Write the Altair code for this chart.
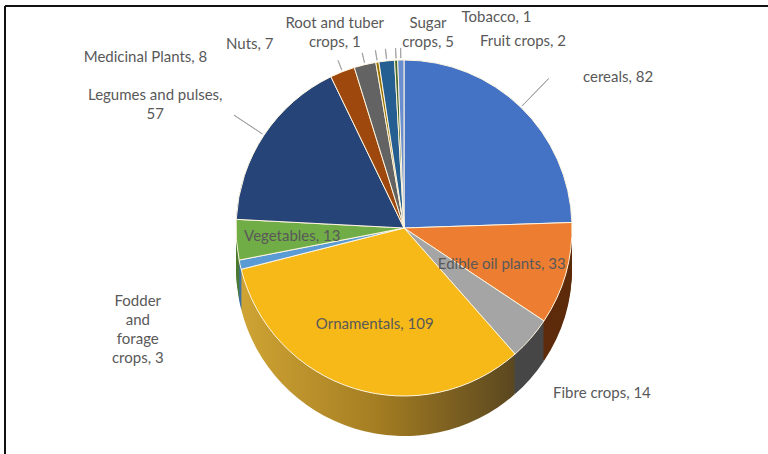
import math
import altair as alt
import pandas as pd

# ---- data ----
categories = ["cereals", "Edible oil plants", "Fibre crops", "Ornamentals",
              "Fodder and forage crops", "Vegetables", "Legumes and pulses",
              "Medicinal Plants", "Nuts", "Root and tuber crops", "Sugar crops",
              "Tobacco", "Fruit crops"]
values = [82, 33, 14, 109, 3, 13, 57, 8, 7, 1, 5, 1, 2]
labels = ["cereals, 82", "Edible oil plants, 33", "Fibre crops, 14", "Ornamentals, 109",
          "Fodder\nand\nforage\ncrops, 3", "Vegetables, 13", "Legumes and pulses,\n57",
          "Medicinal Plants, 8", "Nuts, 7", "Root and tuber\ncrops, 1", "Sugar\ncrops, 5",
          "Tobacco, 1", "Fruit crops, 2"]

# ---- styles / layout (kept apart from data) ----
top_colors = ["#4472C4", "#ED7D31", "#A5A5A5", "#F6B918", "#5B9BD5", "#70AD47", "#264478",
              "#9E480E", "#636363", "#997300", "#255E91", "#43682B", "#698ED0"]
side_colors = ["#2E4F8A", "#5E2C0C", "#474747", "#8A6A1E", "#3F73A6", "#4E7A32", "#1A2F55",
               "#6A300A", "#444444", "#6A5000", "#1A4268", "#2E481E", "#4A66A0"]
label_deg = [54.8, 110, 129.9, 197, 254.7, 266, 298.1, 303.5, 320, 341.3, 6.7, 23.7, 32.4]
label_dist = [262, 104, 258, 100, 276, 112, 282, 310, 240, 216, 206, 230, 222]
leader_len = [38, 0, 0, 0, 0, 0, 34, 10, 10, 10, 10, 10, 10]

W, H = 763, 448
CX, CY, R = 399, 222, 168
DEPTH = 40
total = sum(values)

df = pd.DataFrame({
    "category": categories, "value": values, "label": labels,
    "order": list(range(len(values))),
    "top_color": top_colors, "side_color": side_colors,
    "ldeg": label_deg, "ldist": label_dist, "lead": leader_len,
})

theta_scale = alt.Scale(domain=[0, total], range=[0, 2 * math.pi])

base = alt.Chart(df).transform_window(
    cum="sum(value)", sort=[alt.SortField("order")], frame=[None, 0]
).transform_calculate(
    start="datum.cum - datum.value", mid="datum.cum - datum.value / 2"
)

orn_gradient = alt.Gradient(
    gradient="linear",
    stops=[alt.GradientStop(color="#CFA434", offset=0),
           alt.GradientStop(color="#A47D22", offset=0.5),
           alt.GradientStop(color="#5A4720", offset=1)],
    x1=0, x2=1, y1=0, y2=0)

layers = []
# pseudo-3D side: stacked shifted copies
for k in range(DEPTH, 0, -2):
    layers.append(
        base.transform_filter("datum.category != 'Ornamentals'").mark_arc(radius=R).encode(
            theta=alt.Theta("start:Q", scale=theta_scale, stack=False),
            theta2="cum:Q",
            color=alt.Color("side_color:N", scale=None),
            x=alt.value(CX), y=alt.value(CY + k),
        )
    )
    layers.append(
        base.transform_filter("datum.category == 'Ornamentals'").mark_arc(
            radius=R, fill=orn_gradient,
        ).encode(
            theta=alt.Theta("start:Q", scale=theta_scale, stack=False),
            theta2="cum:Q",
            x=alt.value(CX), y=alt.value(CY + k),
        )
    )

top = base.mark_arc(radius=R, stroke="#FFF6E0", strokeWidth=1).encode(
    theta=alt.Theta("start:Q", scale=theta_scale, stack=False),
    theta2="cum:Q",
    color=alt.Color("top_color:N", scale=None),
    x=alt.value(CX), y=alt.value(CY),
)
layers.append(top)

leaders = base.transform_filter("datum.lead > 0").transform_calculate(
    t1="datum.mid - 0.04", t2="datum.mid + 0.04",
    rin=f"{R + 2}", rout=f"{R + 2} + datum.lead",
).mark_arc(fill="#A0A0A0", stroke="#A0A0A0", strokeWidth=0.8).encode(
    theta=alt.Theta("t1:Q", scale=theta_scale, stack=False),
    theta2="t2:Q",
    radius=alt.Radius("rout:Q", scale=None),
    radius2="rin:Q",
    x=alt.value(CX), y=alt.value(CY),
)
layers.append(leaders)

text = base.transform_calculate(
    lt=f"datum.ldeg / 360 * {total}"
).mark_text(font="Lato", fontSize=15, color="#595959", lineBreak="\n",
            align="center", baseline="middle", lineHeight=19).encode(
    theta=alt.Theta("lt:Q", scale=theta_scale, stack=False),
    radius=alt.Radius("ldist:Q", scale=None),
    text="label:N",
    x=alt.value(CX), y=alt.value(CY),
)
layers.append(text)

frame_df = pd.DataFrame({"a": [0]})
frame_top = alt.Chart(frame_df).mark_rule(color="#111111", strokeWidth=2).encode(
    x=alt.value(0), x2=alt.value(W), y=alt.value(0))
frame_left = alt.Chart(frame_df).mark_rule(color="#111111", strokeWidth=2).encode(
    x=alt.value(0), y=alt.value(0), y2=alt.value(H))
layers += [frame_top, frame_left]

chart = alt.layer(*layers).properties(
    width=W, height=H,
    autosize=alt.AutoSizeParams(type="none"),
    padding={"left": 5, "top": 6, "right": 0, "bottom": 0},
).configure_view(strokeWidth=0)

chart.save("out.html", embed_options={"renderer": "svg", "actions": False})
